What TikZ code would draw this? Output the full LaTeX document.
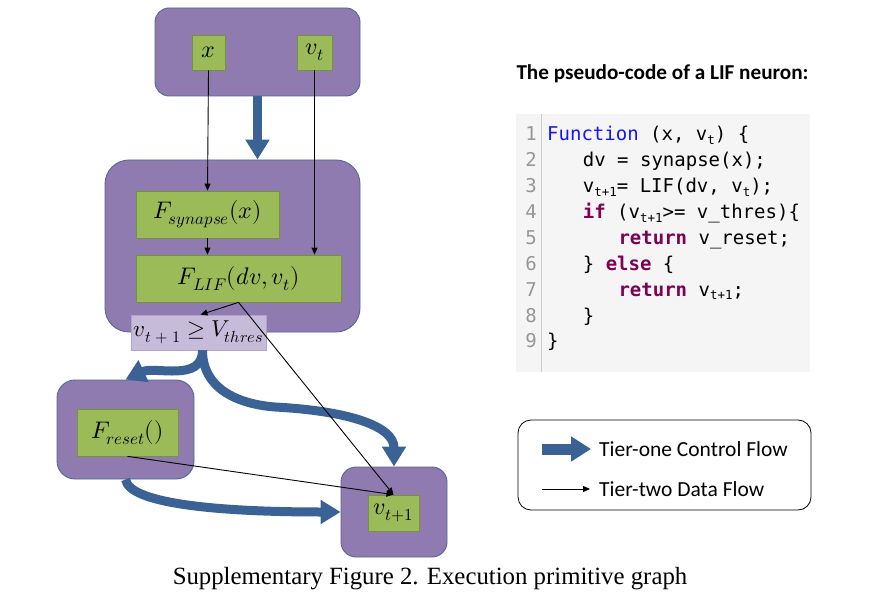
\documentclass[tikz,border=0pt]{standalone}
\usepackage{fontspec}
\usepackage{unicode-math}
\setmathfont{Latin Modern Math}
\usetikzlibrary{arrows.meta}
\newfontfamily\codefont{DejaVu Sans Mono}
\newfontfamily\calfont{Carlito}
\newfontfamily\capfont{Liberation Serif}
\definecolor{boxpurple}{RGB}{143,123,176}
\definecolor{boxedge}{RGB}{80,105,150}
\definecolor{boxgreen}{RGB}{155,187,89}
\definecolor{greenedge}{RGB}{118,146,60}
\definecolor{flowblue}{RGB}{58,98,148}
\definecolor{thrfill}{RGB}{198,188,218}
\definecolor{thredge}{RGB}{175,163,203}
\definecolor{kwblue}{RGB}{20,20,255}
\definecolor{kwpurple}{RGB}{127,0,85}
\definecolor{lngray}{RGB}{150,150,150}
\definecolor{codebgc}{RGB}{245,245,245}
\newcommand\codesub[1]{\raisebox{-0.35ex}{\fontsize{12.5}{12.5}\selectfont #1}}
\newcommand\kw[1]{{\bfseries\color{kwpurple}#1}}
\tikzset{
  outerbox/.style={draw=boxedge, line width=0.9pt, fill=boxpurple, inner sep=0pt},
  greenbox/.style={draw=greenedge, line width=0.7pt, fill=boxgreen, inner sep=0pt,
    font=\fontsize{24}{28}\selectfont},
  thinflow/.style={draw=black, line width=0.9pt, -{Triangle[length=7pt,width=6pt]}},
  thickflow/.style={draw=flowblue, line width=9pt, -{Triangle[length=20pt,width=23pt]}},
  codeline/.style={anchor=base west, inner sep=0pt, font=\codefont\fontsize{19}{22}\selectfont},
  lineno/.style={anchor=base east, inner sep=0pt, text=lngray, font=\codefont\fontsize{19}{22}\selectfont},
  legtext/.style={anchor=base west, inner sep=0pt, font=\calfont\fontsize{21.5}{25}\selectfont},
}
\begin{document}
\begin{tikzpicture}[x=1pt,y=-1pt]
\useasboundingbox (0,0) rectangle (874,601);
\fill[white] (0,0) rectangle (874,601);

% outer purple boxes
\node[outerbox, rounded corners=14pt, minimum width=205pt, minimum height=88pt] (top) at (257.5,52) {};
\node[outerbox, rounded corners=24pt, minimum width=255pt, minimum height=172pt] (mid) at (232.5,246) {};
\node[outerbox, rounded corners=18pt, minimum width=137pt, minimum height=99pt] (frb) at (125.5,429.5) {};
\node[outerbox, rounded corners=15pt, minimum width=106pt, minimum height=90pt] (vb) at (394,512) {};

% green boxes
\node[greenbox, minimum width=33pt, minimum height=35pt] (x) at (208.5,52.5) {$x$};
\node[greenbox, minimum width=35pt, minimum height=35pt] (vt) at (314.5,52.5) {$v_t$};
\node[greenbox, minimum width=143pt, minimum height=47pt] (fs) at (207.5,214.5) {$F_{synapse}(x)$};
\node[greenbox, minimum width=205pt, minimum height=47pt] (lif) at (238.5,278.5) {$F_{LIF}(dv,v_t)$};
\node[draw=thredge, line width=0.7pt, fill=thrfill, inner sep=0pt, minimum width=135pt, minimum height=35pt,
  font=\fontsize{23}{26}\selectfont] (thr) at (198.5,332.5) {$v_{t\;+\;1}\geq V_{thres}$};
\node[greenbox, minimum width=101pt, minimum height=47pt] (fr) at (127.5,432.5) {$F_{reset}()$};
\node[greenbox, minimum width=51pt, minimum height=36pt] (vt1) at (393.5,513) {$v_{t+1}$};

% tier-one control flow
\coordinate (m1) at (275,407);
\draw[thickflow] (top.south) -- (top.south |- mid.north);
\draw[thickflow] ([xshift=4pt]thr.south) to[out=-90,in=25] (frb.north);
\draw[thickflow] ([xshift=4pt]thr.south) .. controls +(0,38) and +(-38,-3) .. (m1)
  .. controls +(75,4) and +(0,-40) .. (vb.north);
\draw[thickflow] (frb.south) .. controls +(4,26) and +(-110,0) .. (vb.west);

% tier-two data flow
\draw[thinflow] (x.south) -- (fs.north);
\draw[thinflow] (vt.south) -- (vt.south |- lif.north);
\draw[thinflow] (fs.south) -- (fs.south |- lif.north);
\draw[thinflow] (lif.south) -- ([xshift=2pt]thr.north);
\draw[thinflow] (lif.south) -- (vt1.north);
\draw[thinflow] (fr.south) -- (vt1.north);

% pseudo-code
\node[anchor=base, inner sep=0pt, font=\calfont\bfseries\fontsize{21.2}{25}\selectfont] (title) at (662.5,80)
  {The pseudo-code of a LIF neuron:};
\node[fill=codebgc, inner sep=0pt, minimum width=294pt, minimum height=258pt] (codebg) at (663,243) {};
\draw[draw=lngray!50, line width=0.8pt] ([xshift=-121.5pt]codebg.north) -- ([xshift=-121.5pt]codebg.south);

\foreach \i in {1,...,9} {
  \node[lineno] (n\i) at (537,{140.7+25.9*(\i-1)}) {\i};
}
\node[codeline] (c1) at (547,140.7) {{\color{kwblue}Function} (x, v\codesub{t}) \{};
\node[codeline] (c2) at (582.7,166.6) {dv = synapse(x);};
\node[codeline] (c3) at (582.7,192.5) {v\codesub{t+1}= LIF(dv, v\codesub{t});};
\node[codeline] (c4) at (582.7,218.4) {\kw{if} (v\codesub{t+1}>= v\_thres)\{};
\node[codeline] (c5) at (618.3,244.3) {\kw{return} v\_reset;};
\node[codeline] (c6) at (582.7,270.2) {\} \kw{else} \{};
\node[codeline] (c7) at (618.3,296.1) {\kw{return} v\codesub{t+1};};
\node[codeline] (c8) at (582.7,322.0) {\}};
\node[codeline] (c9) at (547,347.9) {\}};

% legend
\node[draw=black, line width=0.8pt, rounded corners=13pt, fill=white, minimum width=293pt, minimum height=90pt] (legend) at (664.5,465) {};
\coordinate (la1) at (541.7,449);
\coordinate (la2) at (591,449);
\coordinate (lb1) at (541.7,489);
\coordinate (lb2) at (590,489);
\draw[draw=flowblue, line width=11pt, -{Triangle[length=20pt,width=24pt]}] (la1) -- (la2);
\draw[thinflow] (lb1) -- (lb2);
\node[legtext] (lt1) at (599,456) {Tier-one Control Flow};
\node[legtext] (lt2) at (599,496) {Tier-two Data Flow};

% caption
\node[anchor=base, inner sep=0pt, font=\capfont\fontsize{24.8}{28}\selectfont] (cap) at (430,584)
  {Supplementary Figure 2. Execution primitive graph};
\end{tikzpicture}
\end{document}
